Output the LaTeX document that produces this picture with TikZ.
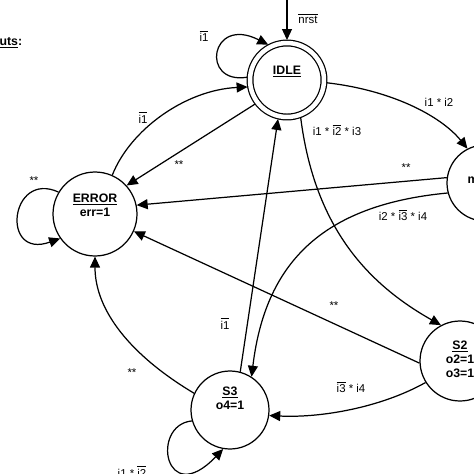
\documentclass[tikz,border=0pt]{standalone}
\usepackage{fontspec}
\setmainfont{Liberation Sans}
\usetikzlibrary{arrows.meta}
\newcommand{\ovl}[1]{$\overline{\mbox{#1}}$}

\begin{document}
\begin{tikzpicture}[x=0.02cm, y=-0.02cm, line width=0.7pt,
        stnode/.style={circle, draw, inner sep=0pt, minimum size=#1},
        sttext/.style={anchor=north, inner sep=0pt, align=center, font=\fontsize{7}{8}\selectfont\bfseries},
        lbl/.style={inner sep=0pt, font=\fontsize{6.5}{7}\selectfont},
        trans/.style={-{Triangle[length=2.2mm, width=2mm]}}]
    \useasboundingbox (0,0) rectangle (474,474);
    \clip (0,0) rectangle (474,474);

    % states
    \node (idle) [stnode=1.48cm, double, double distance=0.09cm, outer sep=0.06cm] at (287,80) {};
    \node (err) [stnode=1.68cm] at (95,214) {};
    \node (m) [stnode=1.52cm] at (485,183) {};
    \node (s2) [stnode=1.6cm] at (460,361) {};
    \node (s3) [stnode=1.56cm] at (230,410) {};

    \node (idletxt) [sttext] at (287,65) {\underline{IDLE}};
    \node (errtxt) [sttext] at (95,193) {\underline{ERROR}\\err=1};
    \node (mtxt) [anchor=base west, inner sep=0pt, font=\fontsize{7}{8}\selectfont\bfseries] at (467,183.5) {m};
    \node (s2txt) [sttext] at (460,340) {\underline{S2}\\o2=1\\o3=1};
    \node (s3txt) [sttext] at (230,386) {\underline{S3}\\o4=1};
    \node (outtxt) [anchor=base west, inner sep=0pt, font=\fontsize{7}{8}\selectfont\bfseries] at (-1,45) {\underline{uts}:};

    % transitions
    \coordinate (rst) at (287,-10);
    \draw[trans] (rst) -- (idle) node (lnrst) [lbl] at (308,18.5) {\ovl{nrst}};
    \draw[trans] (idle.176) .. controls (200,85) and (210,15) .. (idle.118) node (lidle) [lbl] at (204,36) {\ovl{i1}};
    \draw[trans] (err.66) .. controls (130,130) and (185,90) .. (idle.190) node (lerridle) [lbl] at (143,117.5) {\ovl{i1}};
    \draw[trans] (idle.217) -- (err.42) node (lidleerr) [lbl] at (179,165) {**};
    \draw[trans] (m.172) -- (err.12) node (lmerr) [lbl] at (406,168) {**};
    \draw[trans] (m.195) .. controls (320,205) and (265,265) .. (s3.57) node (lms3) [lbl] at (403,215) {i2 * \ovl{i3} * i4};
    \draw[trans] (idle.290) .. controls (315,230) and (370,285) .. (s2.118) node (lidles2) [lbl] at (337,130) {i1 *\ \ovl{i2}\ * i3};
    \draw[trans] (idle.356) .. controls (390,90) and (440,115) .. (m.117) node (lidlem) [lbl] at (439,102) {i1 * i2};
    \draw[trans] (s2.183) -- (err.336) node (ls2err) [lbl] at (334,305.5) {**};
    \draw[trans] (s2.212) .. controls (380,408) and (320,418) .. (s3.352) node (ls2s3) [lbl] at (351,387) {\ovl{i3} * i4};
    \draw[trans] (s3.75) -- (idle.257) node (ls3idle) [lbl] at (225,323.5) {\ovl{i1}};
    \draw[trans] (s3.155) .. controls (130,355) and (95,310) .. (err.270) node (ls3err) [lbl] at (132,373) {**};
    \draw[trans] (err.149) .. controls (10,170) and (0,260) .. (err.215) node (lerr) [lbl] at (34,181) {**};
    \draw[trans] (s3.196) .. controls (150,425) and (165,510) .. (s3.260) node (ls3) [lbl, anchor=north] at (132,465) {i1 * \ovl{i2}};
\end{tikzpicture}
\end{document}
